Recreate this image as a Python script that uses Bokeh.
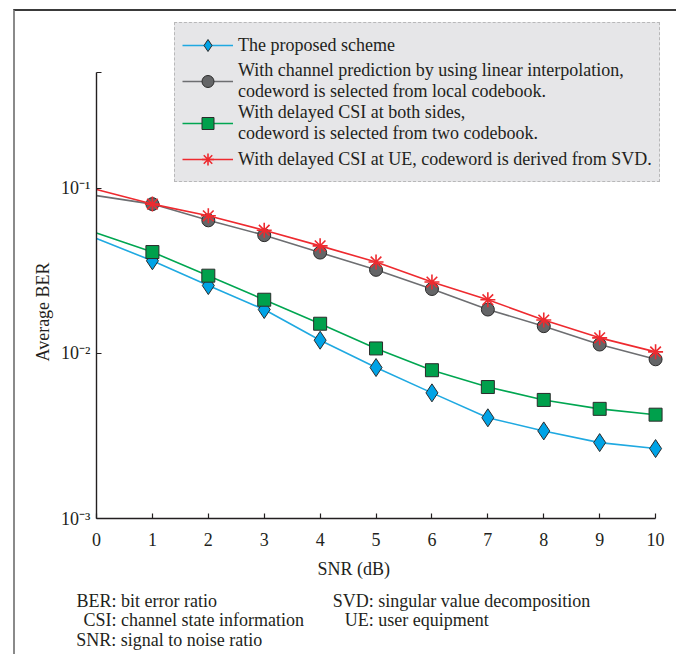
import math
from bokeh.plotting import figure
from bokeh.models import (ColumnDataSource, Range1d, FixedTicker, Legend,
                          LegendItem, LinearAxis, LogAxis)
from bokeh.embed import file_html
from bokeh.resources import INLINE

# ---------------- data ----------------
snr_db = [0, 1, 2, 3, 4, 5, 6, 7, 8, 9, 10]
ber_proposed = [0.0495, 0.0363, 0.0257, 0.0184, 0.0120, 0.0082,
                0.00576, 0.00407, 0.00339, 0.00288, 0.00265]
ber_linear_interp = [0.090, 0.080, 0.0638, 0.0519, 0.0407, 0.0320,
                     0.0245, 0.0184, 0.0146, 0.0113, 0.0092]
ber_two_codebook = [0.0535, 0.0410, 0.0295, 0.0211, 0.0151, 0.0107,
                    0.0079, 0.00625, 0.00522, 0.00461, 0.00425]
ber_svd = [0.098, 0.080, 0.068, 0.0556, 0.0447, 0.0357,
           0.0270, 0.0211, 0.0159, 0.0124, 0.0102]

legend_labels = [
    "The proposed scheme",
    "With channel prediction by using linear interpolation,\ncodeword is selected from local codebook.",
    "With delayed CSI at both sides,\ncodeword is selected from two codebook.",
    "With delayed CSI at UE, codeword is derived from SVD.",
]
x_ticks = [0, 1, 2, 3, 4, 5, 6, 7, 8, 9, 10]
y_ticks = [0.001, 0.01, 0.1, 0.5]
y_tick_labels = {0.001: "10⁻³", 0.01: "10⁻²", 0.1: "10⁻¹", 0.5: ""}
x_title = "SNR (dB)"
y_title = "Average BER"
footnote_rows = [
    ["BER: bit error ratio", "SVD: singular value decomposition"],
    ["CSI: channel state information", "UE: user equipment"],
    ["SNR: signal to noise ratio"],
]

# ---------------- layout positions (x in SNR units, y in BER units) ----------
x_title_pos = 4.60
y_title_pos = 0.0355
footnote_pos = [[0.90, 6.53], [1.74, 5.73], [1.30]]
footnote_standoff = [9, -4, -3]

FONT = "Liberation Serif"
INK = "#231f20"

p = figure(width=663, height=645,
           x_range=Range1d(0, 10.41), y_range=Range1d(0.001, 1.063),
           y_axis_type="log", output_backend="svg", toolbar_location=None,
           min_border_left=81, min_border_right=0,
           min_border_top=7, min_border_bottom=138)
p.styles = {"margin-left": "13px", "margin-top": "9px",
            "border-left": "2px solid #8a8a8a",
            "border-top": "2px solid #3a3a3a"}
p.outline_line_color = None
p.xgrid.visible = False
p.ygrid.visible = False
p.background_fill_color = "white"
p.border_fill_color = "white"


def style_text_axis(ax, standoff):
    ax.axis_line_color = None
    ax.major_tick_line_color = None
    ax.minor_tick_line_color = None
    ax.major_tick_in = 0
    ax.major_tick_out = 0
    ax.minor_tick_in = 0
    ax.minor_tick_out = 0
    ax.major_label_standoff = standoff
    ax.major_label_text_font = FONT
    ax.major_label_text_font_size = "18px"
    ax.major_label_text_color = INK


p.xaxis.ticker = FixedTicker(ticks=x_ticks, minor_ticks=[])
p.yaxis.ticker = FixedTicker(ticks=y_ticks, minor_ticks=[])
p.yaxis.major_label_overrides = y_tick_labels
p.xaxis.bounds = (0, 10)
p.yaxis.bounds = (0.001, 0.5)
for ax in (p.xaxis[0], p.yaxis[0]):
    ax.axis_line_color = INK
    ax.axis_line_width = 1.4
    ax.major_tick_line_color = INK
    ax.major_tick_line_width = 1.2
    ax.major_tick_in = 5
    ax.major_tick_out = 0
    ax.minor_tick_in = 0
    ax.minor_tick_out = 0
    ax.major_label_text_font = FONT
    ax.major_label_text_font_size = "18px"
    ax.major_label_text_color = INK
p.xaxis.major_label_standoff = 14
p.yaxis.major_label_standoff = 6

# y axis title as a label-only axis
yt = LogAxis(ticker=FixedTicker(ticks=[y_title_pos], minor_ticks=[]),
             major_label_overrides={y_title_pos: y_title},
             major_label_orientation=math.pi / 2)
style_text_axis(yt, 15)
p.add_layout(yt, "left")

# x axis title
xt = LinearAxis(ticker=FixedTicker(ticks=[x_title_pos], minor_ticks=[]),
                major_label_overrides={x_title_pos: x_title})
style_text_axis(xt, 10)
p.add_layout(xt, "below")

# footnotes, one label-only axis per row
for texts, pos, so in zip(footnote_rows, footnote_pos, footnote_standoff):
    fa = LinearAxis(ticker=FixedTicker(ticks=pos, minor_ticks=[]),
                    major_label_overrides=dict(zip(pos, texts)))
    style_text_axis(fa, so)
    p.add_layout(fa, "below")

src = ColumnDataSource(dict(x=snr_db, prop=ber_proposed, lin=ber_linear_interp,
                            two=ber_two_codebook, svd=ber_svd))
msrc = ColumnDataSource(dict(x=snr_db[1:], prop=ber_proposed[1:],
                             lin=ber_linear_interp[1:],
                             two=ber_two_codebook[1:], svd=ber_svd[1:]))

series = [
    ("prop", "#1fa9e1", "#00a3e6", "diamond", 18),
    ("lin", "#6d6e71", "#646567", "circle", 13),
    ("two", "#00a651", "#00a04c", "square", 13),
    ("svd", "#ee2a2f", None, "asterisk", 15),
]
items = []
for (col, lcol, fcol, mk, sz), lab in zip(series, legend_labels):
    lr = p.line("x", col, source=src, line_color=lcol, line_width=1.6)
    if mk == "asterisk":
        mr = p.scatter("x", col, source=msrc, marker=mk, size=sz,
                       line_color=lcol, line_width=1.6)
    else:
        mr = p.scatter("x", col, source=msrc, marker=mk, size=sz,
                       fill_color=fcol, line_color="#2b2b2b", line_width=1)
    items.append(LegendItem(label=lab, renderers=[lr, mr]))

legend = Legend(items=items, location=(78, 336),
                label_text_font=FONT, label_text_font_size="18px",
                label_text_color=INK, label_text_line_height=0.94,
                background_fill_color="#e6e6e8", background_fill_alpha=1.0,
                border_line_color="#8c8c8c", border_line_dash="1 2",
                border_line_width=1, padding=7, spacing=0, margin=0,
                glyph_width=51, glyph_height=30, label_height=20,
                label_standoff=5)
p.add_layout(legend, "center")

open("out.html", "w").write(file_html(p, INLINE))
